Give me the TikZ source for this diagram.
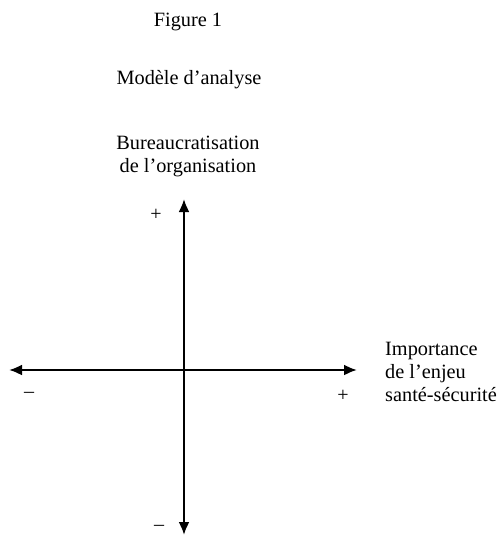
\documentclass[tikz,border=0pt]{standalone}
\usepackage{fontspec}
\setmainfont{Liberation Serif}
\usetikzlibrary{arrows.meta}
\begin{document}
\begin{tikzpicture}[x=1pt,y=-1pt,
  axis/.style={line width=2.2pt,-{Latex[length=13pt,width=11pt]}},
  lbl/.style={font=\fontsize{20.3}{23}\selectfont,inner sep=0pt,align=center,anchor=base},
  sgn/.style={font=\fontsize{20}{23}\selectfont,inner sep=0pt}]
\useasboundingbox (0,0) rectangle (498,535);
\node[lbl] (fig) at (188,27) {Figure 1};
\node[lbl] (mod) at (189,84) {Modèle d’analyse};
\node[lbl] (bur) at (188,172) {Bureaucratisation\\de l’organisation};
\node[lbl,align=left,anchor=base west] (imp) at (385,401) {Importance\\de l’enjeu\\santé-sécurité};
\coordinate (o) at (184,370);
\coordinate (top) at (184,199);
\coordinate (bot) at (184,535);
\coordinate (lft) at (9,370);
\coordinate (rgt) at (357,370);
\draw[axis] (o) -- (top);
\draw[axis] (o) -- (bot);
\draw[axis] (o) -- (lft);
\draw[axis] (o) -- (rgt);
\node[sgn] (ptop) at (156,215) {+};
\node[sgn] (mbot) at (159,528) {–};
\node[sgn] (mlft) at (29,395) {–};
\node[sgn] (prgt) at (343,396) {+};
\end{tikzpicture}
\end{document}
